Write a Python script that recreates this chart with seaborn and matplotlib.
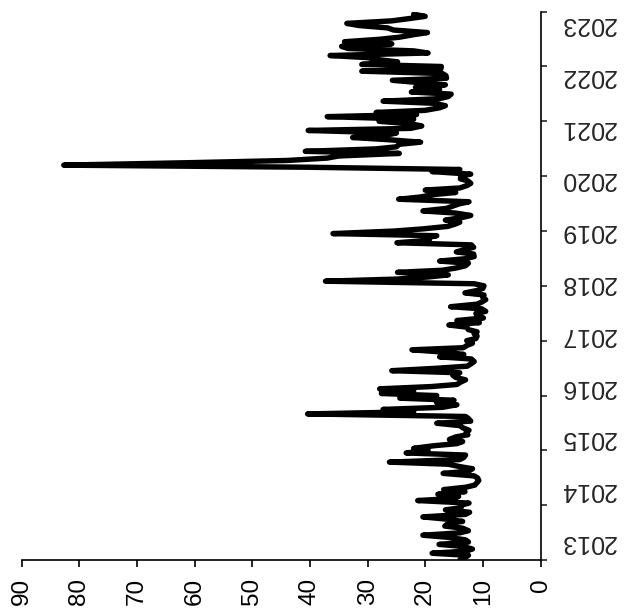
import numpy as np
import pandas as pd
import matplotlib
matplotlib.use("Agg")
import matplotlib.pyplot as plt
import matplotlib.dates as mdates
import seaborn as sns

# ---- data (semi-monthly readings: 1st and 15th of each month) ----
vix_2013 = [14.0, 13.2, 12.5, 18.8, 13.0, 11.8, 13.4, 17.6, 12.5, 13.0, 16.0, 20.4,
            14.0, 12.5, 13.5, 16.6, 16.0, 13.5, 16.5, 20.4, 13.0, 12.3, 16.5, 13.8]
vix_2014 = [13.8, 12.4, 21.3, 15.0, 14.2, 17.8, 13.1, 16.8, 12.9, 11.4, 11.0, 10.7,
            10.9, 11.5, 16.9, 12.5, 11.8, 14.0, 16.0, 26.2, 14.0, 13.3, 13.0, 23.3]
vix_2015 = [19.5, 22.0, 18.5, 14.5, 13.5, 15.8, 14.7, 12.6, 12.9, 12.4, 13.5, 14.0,
            18.0, 12.1, 12.5, 13.0, 40.4, 22.0, 27.3, 17.0, 14.5, 18.0, 15.0, 24.4]
vix_2016 = [18.0, 27.6, 22.0, 27.9, 19.0, 14.5, 13.8, 13.0, 14.7, 15.2, 14.0, 25.8,
            18.0, 12.7, 12.0, 11.5, 12.0, 17.5, 13.3, 16.2, 22.3, 13.4, 12.7, 11.8]
vix_2017 = [12.8, 11.2, 11.0, 11.5, 11.0, 12.5, 12.8, 15.9, 10.6, 14.5, 9.9, 11.0,
            11.2, 9.5, 10.2, 15.6, 11.0, 10.2, 9.5, 10.0, 9.8, 13.1, 11.0, 10.0]
vix_2018 = [9.8, 11.5, 37.3, 25.0, 19.5, 16.0, 24.8, 17.0, 14.5, 13.0, 12.5, 17.5,
            13.0, 11.5, 11.6, 14.6, 13.0, 11.6, 12.0, 24.9, 19.3, 20.0, 18.0, 36.0]
vix_2019 = [25.4, 20.5, 16.1, 14.9, 14.0, 16.5, 13.6, 12.1, 14.8, 20.4, 16.3, 15.3,
            14.1, 12.4, 24.6, 21.0, 18.5, 14.7, 20.0, 14.0, 12.7, 12.1, 12.6, 13.9]
vix_2020 = [13.8, 12.1, 18.8, 14.0, 40.1, 82.7, 60.0, 44.0, 37.0, 35.0, 24.5, 40.8,
            28.6, 25.0, 24.5, 20.8, 26.6, 32.6, 26.7, 25.0, 40.3, 22.5, 20.6, 22.5]
vix_2021 = [28.0, 22.0, 37.0, 21.5, 28.5, 20.0, 17.5, 16.5, 18.5, 27.3, 17.5, 16.0,
            15.5, 22.4, 17.5, 21.7, 16.5, 20.8, 25.7, 16.3, 16.4, 17.0, 31.0, 17.3]
vix_2022 = [17.2, 31.0, 24.8, 28.0, 30.0, 36.5, 19.5, 22.0, 33.4, 34.5, 25.8, 34.0,
            28.0, 24.5, 22.0, 19.6, 25.5, 26.5, 31.5, 33.6, 25.8, 23.0, 20.0, 22.0]

x_ticks = [0, 10, 20, 30, 40, 50, 60, 70, 80, 90]
year_ticks = list(range(2013, 2024))
year_labels = [str(y) for y in range(2013, 2024)]

values = (vix_2013 + vix_2014 + vix_2015 + vix_2016 + vix_2017 +
          vix_2018 + vix_2019 + vix_2020 + vix_2021 + vix_2022)
dates = pd.date_range("2013-01-01", "2022-12-15", freq="SMS")
df = pd.DataFrame({"date": dates, "vix": values})

# ---- styling ----
sns.set_style("white")
plt.rcParams["font.family"] = ["Liberation Sans", "DejaVu Sans"]

W, H = 624, 613
fig = plt.figure(figsize=(W / 100, H / 100), dpi=100)
left_px, right_px, top_px, bottom_px = 21.7, 540.5, 11.7, 560.0
ax = fig.add_axes([left_px / W, (H - bottom_px) / H,
                   (right_px - left_px) / W, (bottom_px - top_px) / H])

sns.lineplot(data=df, x="vix", y="date", orient="y", estimator=None, sort=True,
             color="black", linewidth=3.9, solid_capstyle="round",
             solid_joinstyle="round", ax=ax)

ax.set_xlabel("")
ax.set_ylabel("")
ax.set_xlim(90, 0)
start = mdates.date2num(pd.Timestamp("2013-01-01"))
end = mdates.date2num(pd.Timestamp("2023-01-01"))
ax.set_ylim(start, end)

# x axis (values) at the bottom, labels rotated
ax.set_xticks(x_ticks)
ax.set_xticklabels([str(v) for v in x_ticks], rotation=90, fontsize=17.5)
ax.tick_params(axis="x", bottom=True, direction="out", length=5, width=1.2,
               pad=8, colors="black")

# date axis on the right: ticks at year boundaries, labels placed separately
ax.yaxis.tick_right()
major_pos = [mdates.date2num(pd.Timestamp(f"{y}-01-01")) for y in year_ticks]
ax.set_yticks(major_pos)
ax.set_yticklabels([""] * len(major_pos))
span_px = bottom_px - top_px
label_pos = [start + (end - start) * (18 + 51.8 * k) / span_px
             for k in range(len(year_labels))]
ax.set_yticks(label_pos, minor=True)
ax.set_yticklabels(year_labels, minor=True, rotation=180, fontsize=18, va="center")
ax.tick_params(axis="y", which="major", right=True, left=False, direction="out",
               length=4.5, width=1.2, labelright=False)
ax.tick_params(axis="y", which="minor", right=True, left=False, length=0,
               pad=14, labelright=True)

for s in ["top", "left"]:
    ax.spines[s].set_visible(False)
for s in ["right", "bottom"]:
    ax.spines[s].set_visible(True)
    ax.spines[s].set_color("black")
    ax.spines[s].set_linewidth(1.2)

fig.savefig("out.png", dpi=100, facecolor="white")
